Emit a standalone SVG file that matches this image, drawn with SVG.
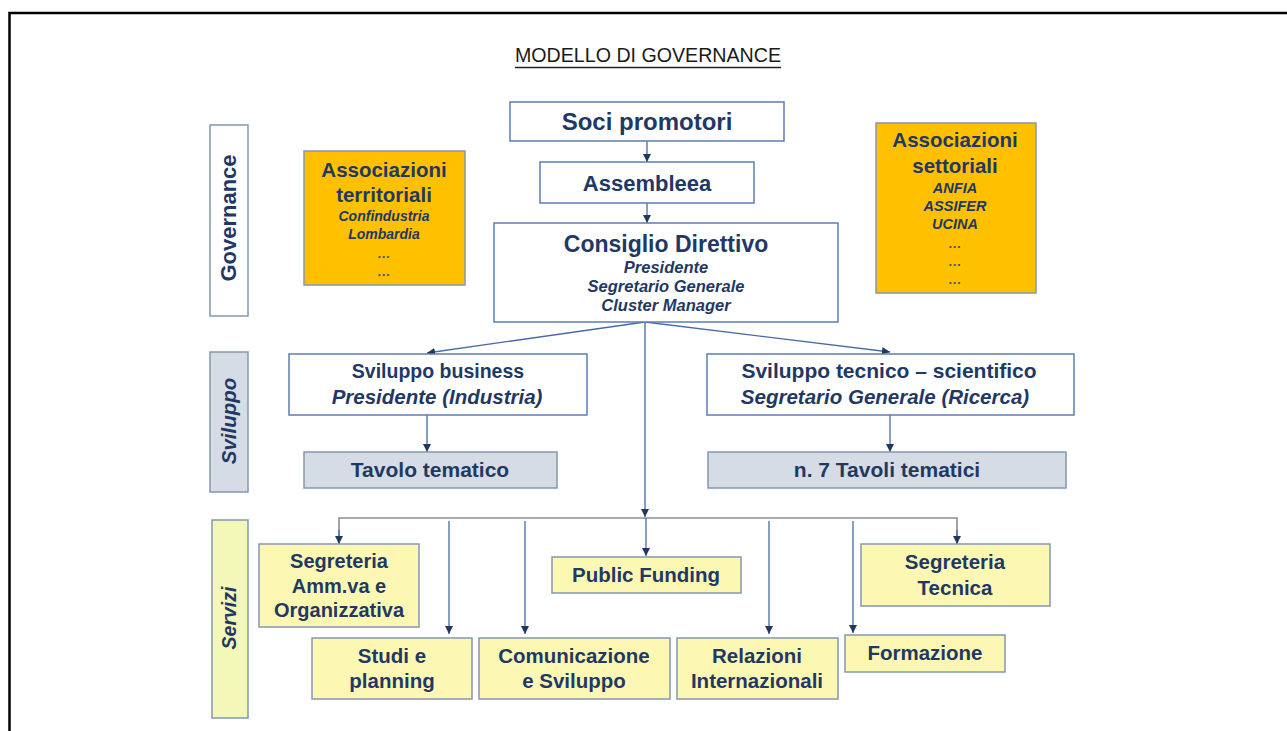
<svg xmlns="http://www.w3.org/2000/svg" width="1287" height="731" viewBox="0 0 1287 731">
  <style>
    text { font-family: "Liberation Sans", Arial, sans-serif; fill: #1F3864; text-anchor: middle; }
    .b { font-weight: bold; }
    .bi { font-weight: bold; font-style: italic; }
    .box { fill: #FFFFFF; stroke: #5B7DB5; stroke-width: 1.5; }
    .org { fill: #FFC000; stroke: #8497B0; stroke-width: 1.5; }
    .grey { fill: #D6DCE5; stroke: #8497B0; stroke-width: 1.5; }
    .yel { fill: #FCF8B4; stroke: #8497B0; stroke-width: 1.5; }
    .lbl { fill: #FFFFFF; stroke: #8497B0; stroke-width: 1.5; }
    .conn { fill: none; stroke: #4A6AA5; stroke-width: 1.3; }
    .bus { fill: none; stroke: #8C8F96; stroke-width: 1.6; }
  </style>
  <defs>
    <marker id="arr" viewBox="0 0 10 10" refX="10" refY="5" markerWidth="8" markerHeight="8" markerUnits="userSpaceOnUse" orient="auto">
      <path d="M0,0 L10,5 L0,10 Z" fill="#1F3864"/>
    </marker>
  </defs>

  <!-- page frame -->
  <path d="M9.5,731 V13 H1287" fill="none" stroke="#000" stroke-width="2.5"/>

  <!-- title -->
  <g id="title">
    <text x="648" y="62" font-size="21" textLength="266" lengthAdjust="spacingAndGlyphs" style="fill:#1a1a1a">MODELLO DI GOVERNANCE</text>
    <line x1="515" y1="67.5" x2="781" y2="67.5" stroke="#222" stroke-width="1.5"/>
  </g>

  <!-- section labels -->
  <g id="label-governance">
    <rect class="lbl" x="210" y="125" width="38" height="191"/>
    <text class="b" font-size="22" transform="translate(236,218) rotate(-90)">Governance</text>
  </g>
  <g id="label-sviluppo">
    <rect class="grey" x="210" y="352" width="38" height="140"/>
    <text class="bi" font-size="20.5" transform="translate(236,421) rotate(-90)">Sviluppo</text>
  </g>
  <g id="label-servizi">
    <rect x="212" y="520" width="36" height="198" fill="#F3F7B7" stroke="#8497B0" stroke-width="1.5"/>
    <text class="bi" font-size="19.5" transform="translate(236,618) rotate(-90)">Servizi</text>
  </g>

  <!-- connectors -->
  <g id="connectors">
    <line class="conn" x1="647" y1="141" x2="647" y2="162" marker-end="url(#arr)"/>
    <line class="conn" x1="647" y1="203" x2="647" y2="223" marker-end="url(#arr)"/>
    <line class="conn" x1="645" y1="322" x2="427" y2="353" marker-end="url(#arr)"/>
    <line class="conn" x1="645" y1="322" x2="890" y2="352" marker-end="url(#arr)"/>
    <line class="conn" x1="645" y1="322" x2="645" y2="517" marker-end="url(#arr)"/>
    <line class="conn" x1="427" y1="415" x2="427" y2="452" marker-end="url(#arr)"/>
    <line class="conn" x1="890" y1="415" x2="890" y2="452" marker-end="url(#arr)"/>
    <polyline class="bus" points="339,543 339,518 957,518 957,543"/>
    <line class="conn" x1="339" y1="530" x2="339" y2="544" marker-end="url(#arr)"/>
    <line class="conn" x1="957" y1="530" x2="957" y2="544" marker-end="url(#arr)"/>
    <line class="conn" x1="646" y1="518" x2="646" y2="556" marker-end="url(#arr)"/>
    <line class="conn" x1="449" y1="521" x2="449" y2="634" marker-end="url(#arr)"/>
    <line class="conn" x1="525" y1="521" x2="525" y2="634" marker-end="url(#arr)"/>
    <line class="conn" x1="769" y1="521" x2="769" y2="634" marker-end="url(#arr)"/>
    <line class="conn" x1="853" y1="521" x2="853" y2="633" marker-end="url(#arr)"/>
  </g>

  <!-- governance level -->
  <g id="soci-promotori">
    <rect class="box" x="510" y="102" width="274" height="39"/>
    <text class="b" x="647" y="130" font-size="24">Soci promotori</text>
  </g>
  <g id="assemblea">
    <rect class="box" x="540" y="162" width="214" height="41"/>
    <text class="b" x="647" y="191" font-size="22">Assembleea</text>
  </g>
  <g id="consiglio-direttivo">
    <rect class="box" x="494" y="223" width="344" height="99"/>
    <text class="b" x="666" y="252" font-size="23">Consiglio Direttivo</text>
    <text class="bi" x="666" y="273" font-size="16.5">Presidente</text>
    <text class="bi" x="666" y="292" font-size="16.5">Segretario Generale</text>
    <text class="bi" x="666" y="311" font-size="16.5">Cluster Manager</text>
  </g>
  <g id="associazioni-territoriali">
    <rect class="org" x="304" y="151" width="161" height="134"/>
    <text class="b" x="384" y="177" font-size="20.5">Associazioni</text>
    <text class="b" x="384" y="202" font-size="20.5">territoriali</text>
    <text class="bi" x="384" y="221" font-size="14">Confindustria</text>
    <text class="bi" x="384" y="239" font-size="14">Lombardia</text>
    <text class="bi" x="384" y="258" font-size="13.5" style="fill:#4a5a78">…</text>
    <text class="bi" x="384" y="276" font-size="13.5" style="fill:#4a5a78">…</text>
  </g>
  <g id="associazioni-settoriali">
    <rect class="org" x="876" y="123" width="160" height="170"/>
    <text class="b" x="955" y="147" font-size="20.5">Associazioni</text>
    <text class="b" x="955" y="173" font-size="20.5">settoriali</text>
    <text class="bi" x="955" y="193" font-size="14.5">ANFIA</text>
    <text class="bi" x="955" y="211" font-size="14.5">ASSIFER</text>
    <text class="bi" x="955" y="229" font-size="14.5">UCINA</text>
    <text class="bi" x="955" y="248" font-size="13.5" style="fill:#4a5a78">…</text>
    <text class="bi" x="955" y="266" font-size="13.5" style="fill:#4a5a78">…</text>
    <text class="bi" x="955" y="284" font-size="13.5" style="fill:#4a5a78">…</text>
  </g>

  <!-- development level -->
  <g id="sviluppo-business">
    <rect class="box" x="289" y="354" width="298" height="61"/>
    <text class="b" x="438" y="378" font-size="19.5">Sviluppo business</text>
    <text class="bi" x="437" y="404" font-size="20.5">Presidente (Industria)</text>
  </g>
  <g id="tavolo-tematico">
    <rect class="grey" x="304" y="452" width="253" height="36"/>
    <text class="b" x="430" y="477" font-size="21">Tavolo tematico</text>
  </g>
  <g id="sviluppo-tecnico">
    <rect class="box" x="707" y="354" width="367" height="61"/>
    <text class="b" x="889" y="378" font-size="21">Sviluppo tecnico – scientifico</text>
    <text class="bi" x="885" y="404" font-size="20.5">Segretario Generale (Ricerca)</text>
  </g>
  <g id="tavoli-tematici">
    <rect class="grey" x="708" y="452" width="358" height="36"/>
    <text class="b" x="887" y="477" font-size="21">n. 7 Tavoli tematici</text>
  </g>

  <!-- services level -->
  <g id="segreteria-amministrativa">
    <rect class="yel" x="259" y="544" width="160" height="83"/>
    <text class="b" x="339" y="568" font-size="20">Segreteria</text>
    <text class="b" x="339" y="593" font-size="20">Amm.va e</text>
    <text class="b" x="339" y="617" font-size="20">Organizzativa</text>
  </g>
  <g id="public-funding">
    <rect class="yel" x="552" y="557" width="189" height="36"/>
    <text class="b" x="646" y="582" font-size="20.5">Public Funding</text>
  </g>
  <g id="segreteria-tecnica">
    <rect class="yel" x="861" y="544" width="189" height="62"/>
    <text class="b" x="955" y="569" font-size="20.5">Segreteria</text>
    <text class="b" x="955" y="595" font-size="20.5">Tecnica</text>
  </g>
  <g id="studi-planning">
    <rect class="yel" x="312" y="638" width="160" height="61"/>
    <text class="b" x="392" y="663" font-size="20.5">Studi e</text>
    <text class="b" x="392" y="688" font-size="20.5">planning</text>
  </g>
  <g id="comunicazione-sviluppo">
    <rect class="yel" x="479" y="638" width="191" height="61"/>
    <text class="b" x="574" y="663" font-size="20.5">Comunicazione</text>
    <text class="b" x="574" y="688" font-size="20.5">e Sviluppo</text>
  </g>
  <g id="relazioni-internazionali">
    <rect class="yel" x="677" y="638" width="161" height="61"/>
    <text class="b" x="757" y="663" font-size="20.5">Relazioni</text>
    <text class="b" x="757" y="688" font-size="20.5">Internazionali</text>
  </g>
  <g id="formazione">
    <rect class="yel" x="845" y="635" width="160" height="37"/>
    <text class="b" x="925" y="660" font-size="20.5">Formazione</text>
  </g>
</svg>
